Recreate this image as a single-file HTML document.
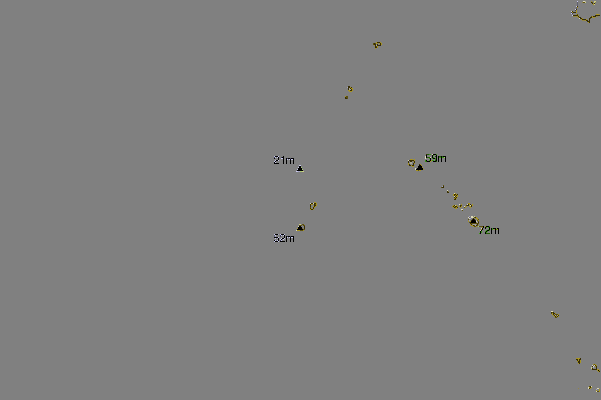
<!DOCTYPE html>
<html><head><meta charset="utf-8">
<style>
html,body{margin:0;padding:0;background:#808080;width:601px;height:400px;overflow:hidden}
svg{position:absolute;left:0;top:0;display:block}
</style></head>
<body>
<svg width="601" height="400" viewBox="0 0 601 400" shape-rendering="crispEdges">
<rect x="274" y="156" width="1" height="1" fill="#c8c8ee"/>
<rect x="275" y="156" width="3" height="1" fill="#000000"/>
<rect x="278" y="156" width="1" height="1" fill="#c8c8ee"/>
<rect x="283" y="156" width="1" height="1" fill="#000000"/>
<rect x="274" y="157" width="1" height="1" fill="#3c3c58"/>
<rect x="275" y="157" width="1" height="1" fill="#c8c8ee"/>
<rect x="277" y="157" width="1" height="1" fill="#c8c8ee"/>
<rect x="278" y="157" width="1" height="1" fill="#000000"/>
<rect x="281" y="157" width="1" height="1" fill="#3c3c58"/>
<rect x="282" y="157" width="2" height="1" fill="#000000"/>
<rect x="274" y="158" width="1" height="1" fill="#000000"/>
<rect x="278" y="158" width="1" height="1" fill="#000000"/>
<rect x="281" y="158" width="2" height="1" fill="#c8c8ee"/>
<rect x="283" y="158" width="1" height="1" fill="#000000"/>
<rect x="286" y="158" width="1" height="1" fill="#000000"/>
<rect x="287" y="158" width="1" height="1" fill="#3c3c58"/>
<rect x="288" y="158" width="2" height="1" fill="#000000"/>
<rect x="290" y="158" width="1" height="1" fill="#3c3c58"/>
<rect x="291" y="158" width="3" height="1" fill="#000000"/>
<rect x="278" y="159" width="1" height="1" fill="#000000"/>
<rect x="283" y="159" width="1" height="1" fill="#000000"/>
<rect x="286" y="159" width="1" height="1" fill="#000000"/>
<rect x="287" y="159" width="1" height="1" fill="#c8c8ee"/>
<rect x="289" y="159" width="1" height="1" fill="#c8c8ee"/>
<rect x="290" y="159" width="1" height="1" fill="#000000"/>
<rect x="291" y="159" width="2" height="1" fill="#c8c8ee"/>
<rect x="293" y="159" width="1" height="1" fill="#000000"/>
<rect x="275" y="160" width="1" height="1" fill="#c8c8ee"/>
<rect x="276" y="160" width="2" height="1" fill="#000000"/>
<rect x="278" y="160" width="1" height="1" fill="#c8c8ee"/>
<rect x="283" y="160" width="1" height="1" fill="#000000"/>
<rect x="286" y="160" width="1" height="1" fill="#000000"/>
<rect x="290" y="160" width="1" height="1" fill="#000000"/>
<rect x="293" y="160" width="1" height="1" fill="#000000"/>
<rect x="274" y="161" width="1" height="1" fill="#c8c8ee"/>
<rect x="275" y="161" width="1" height="1" fill="#000000"/>
<rect x="283" y="161" width="1" height="1" fill="#000000"/>
<rect x="286" y="161" width="1" height="1" fill="#000000"/>
<rect x="290" y="161" width="1" height="1" fill="#000000"/>
<rect x="293" y="161" width="1" height="1" fill="#000000"/>
<rect x="274" y="162" width="1" height="1" fill="#000000"/>
<rect x="275" y="162" width="1" height="1" fill="#c8c8ee"/>
<rect x="283" y="162" width="1" height="1" fill="#000000"/>
<rect x="286" y="162" width="1" height="1" fill="#000000"/>
<rect x="290" y="162" width="1" height="1" fill="#000000"/>
<rect x="293" y="162" width="1" height="1" fill="#000000"/>
<rect x="274" y="163" width="5" height="1" fill="#000000"/>
<rect x="283" y="163" width="1" height="1" fill="#000000"/>
<rect x="286" y="163" width="1" height="1" fill="#000000"/>
<rect x="290" y="163" width="1" height="1" fill="#000000"/>
<rect x="293" y="163" width="1" height="1" fill="#000000"/>
<rect x="274" y="234" width="1" height="1" fill="#c8c8ee"/>
<rect x="275" y="234" width="3" height="1" fill="#000000"/>
<rect x="278" y="234" width="1" height="1" fill="#a4a4c0"/>
<rect x="280" y="234" width="1" height="1" fill="#c8c8ee"/>
<rect x="281" y="234" width="3" height="1" fill="#000000"/>
<rect x="284" y="234" width="1" height="1" fill="#c8c8ee"/>
<rect x="274" y="235" width="1" height="1" fill="#626270"/>
<rect x="275" y="235" width="1" height="1" fill="#c8c8ee"/>
<rect x="280" y="235" width="1" height="1" fill="#3c3c58"/>
<rect x="281" y="235" width="1" height="1" fill="#c8c8ee"/>
<rect x="283" y="235" width="1" height="1" fill="#c8c8ee"/>
<rect x="284" y="235" width="1" height="1" fill="#000000"/>
<rect x="274" y="236" width="1" height="1" fill="#626270"/>
<rect x="275" y="236" width="1" height="1" fill="#a4a4c0"/>
<rect x="280" y="236" width="1" height="1" fill="#3c3c58"/>
<rect x="284" y="236" width="1" height="1" fill="#000000"/>
<rect x="286" y="236" width="1" height="1" fill="#000000"/>
<rect x="287" y="236" width="1" height="1" fill="#3c3c58"/>
<rect x="288" y="236" width="2" height="1" fill="#000000"/>
<rect x="290" y="236" width="1" height="1" fill="#3c3c58"/>
<rect x="291" y="236" width="3" height="1" fill="#000000"/>
<rect x="274" y="237" width="4" height="1" fill="#000000"/>
<rect x="278" y="237" width="1" height="1" fill="#c8c8ee"/>
<rect x="284" y="237" width="1" height="1" fill="#000000"/>
<rect x="286" y="237" width="1" height="1" fill="#000000"/>
<rect x="287" y="237" width="1" height="1" fill="#c8c8ee"/>
<rect x="289" y="237" width="1" height="1" fill="#c8c8ee"/>
<rect x="290" y="237" width="1" height="1" fill="#000000"/>
<rect x="291" y="237" width="2" height="1" fill="#c8c8ee"/>
<rect x="293" y="237" width="1" height="1" fill="#000000"/>
<rect x="275" y="238" width="1" height="1" fill="#c8c8ee"/>
<rect x="277" y="238" width="1" height="1" fill="#a4a4c0"/>
<rect x="278" y="238" width="1" height="1" fill="#000000"/>
<rect x="281" y="238" width="1" height="1" fill="#c8c8ee"/>
<rect x="282" y="238" width="2" height="1" fill="#000000"/>
<rect x="284" y="238" width="1" height="1" fill="#c8c8ee"/>
<rect x="286" y="238" width="1" height="1" fill="#000000"/>
<rect x="290" y="238" width="1" height="1" fill="#000000"/>
<rect x="293" y="238" width="1" height="1" fill="#000000"/>
<rect x="278" y="239" width="1" height="1" fill="#000000"/>
<rect x="280" y="239" width="1" height="1" fill="#c8c8ee"/>
<rect x="281" y="239" width="1" height="1" fill="#000000"/>
<rect x="283" y="239" width="1" height="1" fill="#c8c8ee"/>
<rect x="286" y="239" width="1" height="1" fill="#000000"/>
<rect x="290" y="239" width="1" height="1" fill="#000000"/>
<rect x="293" y="239" width="1" height="1" fill="#000000"/>
<rect x="274" y="240" width="1" height="1" fill="#000000"/>
<rect x="275" y="240" width="1" height="1" fill="#c8c8ee"/>
<rect x="277" y="240" width="1" height="1" fill="#c8c8ee"/>
<rect x="278" y="240" width="1" height="1" fill="#000000"/>
<rect x="280" y="240" width="1" height="1" fill="#3c3c58"/>
<rect x="281" y="240" width="1" height="1" fill="#c8c8ee"/>
<rect x="286" y="240" width="1" height="1" fill="#000000"/>
<rect x="290" y="240" width="1" height="1" fill="#000000"/>
<rect x="293" y="240" width="1" height="1" fill="#000000"/>
<rect x="274" y="241" width="1" height="1" fill="#c8c8ee"/>
<rect x="275" y="241" width="3" height="1" fill="#000000"/>
<rect x="278" y="241" width="1" height="1" fill="#c8c8ee"/>
<rect x="280" y="241" width="5" height="1" fill="#000000"/>
<rect x="286" y="241" width="1" height="1" fill="#000000"/>
<rect x="290" y="241" width="1" height="1" fill="#000000"/>
<rect x="293" y="241" width="1" height="1" fill="#000000"/>
<rect x="426" y="154" width="1" height="1" fill="#382e04"/>
<rect x="427" y="154" width="2" height="1" fill="#245c08"/>
<rect x="429" y="154" width="2" height="1" fill="#3c9418"/>
<rect x="432" y="154" width="1" height="1" fill="#dcd8b8"/>
<rect x="433" y="154" width="3" height="1" fill="#000000"/>
<rect x="436" y="154" width="1" height="1" fill="#3c9418"/>
<rect x="426" y="155" width="1" height="1" fill="#000000"/>
<rect x="432" y="155" width="1" height="1" fill="#000000"/>
<rect x="433" y="155" width="1" height="1" fill="#3c9418"/>
<rect x="436" y="155" width="1" height="1" fill="#000000"/>
<rect x="425" y="156" width="1" height="1" fill="#dcd8b8"/>
<rect x="426" y="156" width="1" height="1" fill="#000000"/>
<rect x="432" y="156" width="1" height="1" fill="#000000"/>
<rect x="435" y="156" width="1" height="1" fill="#245c08"/>
<rect x="436" y="156" width="1" height="1" fill="#000000"/>
<rect x="438" y="156" width="1" height="1" fill="#000000"/>
<rect x="439" y="156" width="2" height="1" fill="#245c08"/>
<rect x="441" y="156" width="1" height="1" fill="#000000"/>
<rect x="442" y="156" width="1" height="1" fill="#245c08"/>
<rect x="443" y="156" width="3" height="1" fill="#000000"/>
<rect x="425" y="157" width="1" height="1" fill="#dcd8b8"/>
<rect x="426" y="157" width="1" height="1" fill="#000000"/>
<rect x="427" y="157" width="3" height="1" fill="#245c08"/>
<rect x="430" y="157" width="1" height="1" fill="#dcd8b8"/>
<rect x="432" y="157" width="1" height="1" fill="#000000"/>
<rect x="433" y="157" width="1" height="1" fill="#3c9418"/>
<rect x="436" y="157" width="1" height="1" fill="#000000"/>
<rect x="438" y="157" width="1" height="1" fill="#000000"/>
<rect x="439" y="157" width="2" height="1" fill="#3c9418"/>
<rect x="441" y="157" width="1" height="1" fill="#000000"/>
<rect x="442" y="157" width="2" height="1" fill="#3c9418"/>
<rect x="444" y="157" width="1" height="1" fill="#a8cc70"/>
<rect x="445" y="157" width="1" height="1" fill="#000000"/>
<rect x="425" y="158" width="1" height="1" fill="#dcd8b8"/>
<rect x="429" y="158" width="1" height="1" fill="#3c9418"/>
<rect x="430" y="158" width="1" height="1" fill="#000000"/>
<rect x="432" y="158" width="1" height="1" fill="#3c9418"/>
<rect x="433" y="158" width="2" height="1" fill="#000000"/>
<rect x="435" y="158" width="1" height="1" fill="#3c9418"/>
<rect x="436" y="158" width="1" height="1" fill="#000000"/>
<rect x="438" y="158" width="1" height="1" fill="#000000"/>
<rect x="441" y="158" width="1" height="1" fill="#000000"/>
<rect x="445" y="158" width="1" height="1" fill="#000000"/>
<rect x="430" y="159" width="1" height="1" fill="#000000"/>
<rect x="435" y="159" width="1" height="1" fill="#3c9418"/>
<rect x="436" y="159" width="1" height="1" fill="#000000"/>
<rect x="438" y="159" width="1" height="1" fill="#000000"/>
<rect x="441" y="159" width="1" height="1" fill="#000000"/>
<rect x="445" y="159" width="1" height="1" fill="#000000"/>
<rect x="425" y="160" width="1" height="1" fill="#3c9418"/>
<rect x="426" y="160" width="1" height="1" fill="#000000"/>
<rect x="429" y="160" width="1" height="1" fill="#3c9418"/>
<rect x="430" y="160" width="1" height="1" fill="#000000"/>
<rect x="431" y="160" width="1" height="1" fill="#a89420"/>
<rect x="432" y="160" width="2" height="1" fill="#3c9418"/>
<rect x="435" y="160" width="1" height="1" fill="#245c08"/>
<rect x="436" y="160" width="1" height="1" fill="#000000"/>
<rect x="438" y="160" width="1" height="1" fill="#000000"/>
<rect x="441" y="160" width="1" height="1" fill="#000000"/>
<rect x="445" y="160" width="1" height="1" fill="#000000"/>
<rect x="425" y="161" width="1" height="1" fill="#3c9418"/>
<rect x="426" y="161" width="1" height="1" fill="#245c08"/>
<rect x="427" y="161" width="3" height="1" fill="#000000"/>
<rect x="430" y="161" width="1" height="1" fill="#a89420"/>
<rect x="433" y="161" width="3" height="1" fill="#000000"/>
<rect x="436" y="161" width="1" height="1" fill="#245c08"/>
<rect x="438" y="161" width="1" height="1" fill="#000000"/>
<rect x="441" y="161" width="1" height="1" fill="#000000"/>
<rect x="445" y="161" width="1" height="1" fill="#000000"/>
<rect x="478" y="226" width="1" height="1" fill="#a8cc70"/>
<rect x="479" y="226" width="4" height="1" fill="#5c5010"/>
<rect x="483" y="226" width="1" height="1" fill="#000000"/>
<rect x="485" y="226" width="1" height="1" fill="#a89420"/>
<rect x="486" y="226" width="3" height="1" fill="#000000"/>
<rect x="489" y="226" width="1" height="1" fill="#3c9418"/>
<rect x="482" y="227" width="1" height="1" fill="#a89420"/>
<rect x="483" y="227" width="1" height="1" fill="#000000"/>
<rect x="485" y="227" width="1" height="1" fill="#000000"/>
<rect x="486" y="227" width="1" height="1" fill="#3c9418"/>
<rect x="488" y="227" width="1" height="1" fill="#3c9418"/>
<rect x="489" y="227" width="1" height="1" fill="#000000"/>
<rect x="481" y="228" width="1" height="1" fill="#dcd8b8"/>
<rect x="482" y="228" width="1" height="1" fill="#000000"/>
<rect x="485" y="228" width="1" height="1" fill="#000000"/>
<rect x="489" y="228" width="1" height="1" fill="#000000"/>
<rect x="491" y="228" width="1" height="1" fill="#000000"/>
<rect x="492" y="228" width="1" height="1" fill="#3c9418"/>
<rect x="493" y="228" width="3" height="1" fill="#000000"/>
<rect x="496" y="228" width="1" height="1" fill="#928648"/>
<rect x="497" y="228" width="2" height="1" fill="#000000"/>
<rect x="481" y="229" width="1" height="1" fill="#a89420"/>
<rect x="482" y="229" width="1" height="1" fill="#000000"/>
<rect x="488" y="229" width="1" height="1" fill="#3c9418"/>
<rect x="489" y="229" width="1" height="1" fill="#000000"/>
<rect x="491" y="229" width="1" height="1" fill="#000000"/>
<rect x="492" y="229" width="1" height="1" fill="#3c9418"/>
<rect x="494" y="229" width="1" height="1" fill="#a89420"/>
<rect x="495" y="229" width="1" height="1" fill="#000000"/>
<rect x="496" y="229" width="1" height="1" fill="#3c9418"/>
<rect x="497" y="229" width="1" height="1" fill="#a89420"/>
<rect x="498" y="229" width="1" height="1" fill="#000000"/>
<rect x="480" y="230" width="1" height="1" fill="#dcd8b8"/>
<rect x="481" y="230" width="1" height="1" fill="#000000"/>
<rect x="486" y="230" width="1" height="1" fill="#3c9418"/>
<rect x="487" y="230" width="2" height="1" fill="#000000"/>
<rect x="489" y="230" width="1" height="1" fill="#3c9418"/>
<rect x="491" y="230" width="1" height="1" fill="#000000"/>
<rect x="495" y="230" width="1" height="1" fill="#000000"/>
<rect x="498" y="230" width="1" height="1" fill="#000000"/>
<rect x="480" y="231" width="1" height="1" fill="#000000"/>
<rect x="481" y="231" width="1" height="1" fill="#3c9418"/>
<rect x="485" y="231" width="1" height="1" fill="#3c9418"/>
<rect x="486" y="231" width="1" height="1" fill="#000000"/>
<rect x="487" y="231" width="1" height="1" fill="#3c9418"/>
<rect x="491" y="231" width="1" height="1" fill="#000000"/>
<rect x="495" y="231" width="1" height="1" fill="#000000"/>
<rect x="498" y="231" width="1" height="1" fill="#000000"/>
<rect x="480" y="232" width="1" height="1" fill="#000000"/>
<rect x="481" y="232" width="1" height="1" fill="#3c9418"/>
<rect x="485" y="232" width="1" height="1" fill="#000000"/>
<rect x="486" y="232" width="1" height="1" fill="#3c9418"/>
<rect x="491" y="232" width="1" height="1" fill="#000000"/>
<rect x="495" y="232" width="1" height="1" fill="#000000"/>
<rect x="498" y="232" width="1" height="1" fill="#000000"/>
<rect x="479" y="233" width="1" height="1" fill="#3c9418"/>
<rect x="480" y="233" width="1" height="1" fill="#000000"/>
<rect x="485" y="233" width="1" height="1" fill="#000000"/>
<rect x="486" y="233" width="4" height="1" fill="#245c08"/>
<rect x="491" y="233" width="1" height="1" fill="#000000"/>
<rect x="495" y="233" width="1" height="1" fill="#000000"/>
<rect x="498" y="233" width="1" height="1" fill="#000000"/>
<rect x="299" y="165" width="2" height="1" fill="#c8c8ee"/>
<rect x="299" y="166" width="2" height="1" fill="#000000"/>
<rect x="298" y="167" width="1" height="1" fill="#c8c8ee"/>
<rect x="299" y="167" width="2" height="1" fill="#000000"/>
<rect x="301" y="167" width="1" height="1" fill="#a8cc70"/>
<rect x="298" y="168" width="4" height="1" fill="#000000"/>
<rect x="297" y="169" width="1" height="1" fill="#c8c8ee"/>
<rect x="298" y="169" width="4" height="1" fill="#000000"/>
<rect x="302" y="169" width="1" height="1" fill="#a8cc70"/>
<rect x="297" y="170" width="6" height="1" fill="#000000"/>
<rect x="296" y="171" width="2" height="1" fill="#c8c8ee"/>
<rect x="298" y="171" width="2" height="1" fill="#a4a4c0"/>
<rect x="300" y="171" width="2" height="1" fill="#a8cc70"/>
<rect x="302" y="171" width="2" height="1" fill="#cccc84"/>
<rect x="419" y="164" width="1" height="1" fill="#382e04"/>
<rect x="420" y="164" width="1" height="1" fill="#a89420"/>
<rect x="419" y="165" width="2" height="1" fill="#000000"/>
<rect x="421" y="165" width="1" height="1" fill="#a89420"/>
<rect x="418" y="166" width="4" height="1" fill="#000000"/>
<rect x="418" y="167" width="4" height="1" fill="#000000"/>
<rect x="422" y="167" width="1" height="1" fill="#a89420"/>
<rect x="415" y="168" width="1" height="1" fill="#dcd8b8"/>
<rect x="417" y="168" width="6" height="1" fill="#000000"/>
<rect x="415" y="169" width="1" height="1" fill="#dcd8b8"/>
<rect x="416" y="169" width="7" height="1" fill="#000000"/>
<rect x="423" y="169" width="1" height="1" fill="#a89420"/>
<rect x="416" y="170" width="2" height="1" fill="#a89420"/>
<rect x="418" y="170" width="1" height="1" fill="#5c5010"/>
<rect x="419" y="170" width="2" height="1" fill="#a89420"/>
<rect x="299" y="224" width="2" height="1" fill="#cccc84"/>
<rect x="302" y="224" width="2" height="1" fill="#5c5010"/>
<rect x="299" y="225" width="3" height="1" fill="#5c5010"/>
<rect x="303" y="225" width="2" height="1" fill="#5c5010"/>
<rect x="298" y="226" width="1" height="1" fill="#dcd8b8"/>
<rect x="299" y="226" width="2" height="1" fill="#000000"/>
<rect x="304" y="226" width="1" height="1" fill="#382e04"/>
<rect x="298" y="227" width="4" height="1" fill="#000000"/>
<rect x="304" y="227" width="1" height="1" fill="#382e04"/>
<rect x="297" y="228" width="1" height="1" fill="#a89420"/>
<rect x="298" y="228" width="4" height="1" fill="#000000"/>
<rect x="302" y="228" width="1" height="1" fill="#7a6a30"/>
<rect x="304" y="228" width="1" height="1" fill="#382e04"/>
<rect x="297" y="229" width="6" height="1" fill="#000000"/>
<rect x="303" y="229" width="2" height="1" fill="#5c5010"/>
<rect x="296" y="230" width="1" height="1" fill="#dcd8b8"/>
<rect x="297" y="230" width="3" height="1" fill="#a89420"/>
<rect x="300" y="230" width="3" height="1" fill="#5c5010"/>
<rect x="303" y="230" width="1" height="1" fill="#a89420"/>
<rect x="469" y="216" width="1" height="1" fill="#a4a4c0"/>
<rect x="471" y="216" width="2" height="1" fill="#dcd8b8"/>
<rect x="474" y="216" width="1" height="1" fill="#cccc84"/>
<rect x="468" y="217" width="1" height="1" fill="#dcd8b8"/>
<rect x="469" y="217" width="1" height="1" fill="#626270"/>
<rect x="471" y="217" width="2" height="1" fill="#dcd8b8"/>
<rect x="473" y="217" width="1" height="1" fill="#cccc84"/>
<rect x="474" y="217" width="1" height="1" fill="#5c5010"/>
<rect x="475" y="217" width="1" height="1" fill="#382e04"/>
<rect x="476" y="217" width="1" height="1" fill="#a89420"/>
<rect x="469" y="218" width="1" height="1" fill="#dcd8b8"/>
<rect x="470" y="218" width="1" height="1" fill="#a4a4c0"/>
<rect x="473" y="218" width="1" height="1" fill="#382e04"/>
<rect x="475" y="218" width="1" height="1" fill="#928648"/>
<rect x="476" y="218" width="2" height="1" fill="#a89420"/>
<rect x="468" y="219" width="1" height="1" fill="#5c5010"/>
<rect x="472" y="219" width="1" height="1" fill="#382e04"/>
<rect x="473" y="219" width="1" height="1" fill="#000000"/>
<rect x="474" y="219" width="1" height="1" fill="#382e04"/>
<rect x="477" y="219" width="1" height="1" fill="#a89420"/>
<rect x="478" y="219" width="1" height="1" fill="#5c5010"/>
<rect x="468" y="220" width="1" height="1" fill="#928648"/>
<rect x="469" y="220" width="1" height="1" fill="#a4a4c0"/>
<rect x="471" y="220" width="1" height="1" fill="#382e04"/>
<rect x="472" y="220" width="3" height="1" fill="#000000"/>
<rect x="475" y="220" width="1" height="1" fill="#382e04"/>
<rect x="476" y="220" width="1" height="1" fill="#a4a4c0"/>
<rect x="477" y="220" width="1" height="1" fill="#5c5010"/>
<rect x="478" y="220" width="1" height="1" fill="#a89420"/>
<rect x="468" y="221" width="1" height="1" fill="#a89420"/>
<rect x="470" y="221" width="1" height="1" fill="#a89420"/>
<rect x="471" y="221" width="5" height="1" fill="#000000"/>
<rect x="476" y="221" width="1" height="1" fill="#dcd8b8"/>
<rect x="478" y="221" width="1" height="1" fill="#5c5010"/>
<rect x="469" y="222" width="1" height="1" fill="#5c5010"/>
<rect x="470" y="222" width="1" height="1" fill="#382e04"/>
<rect x="471" y="222" width="5" height="1" fill="#000000"/>
<rect x="476" y="222" width="1" height="1" fill="#928648"/>
<rect x="477" y="222" width="1" height="1" fill="#a4a4c0"/>
<rect x="478" y="222" width="1" height="1" fill="#382e04"/>
<rect x="470" y="223" width="1" height="1" fill="#382e04"/>
<rect x="471" y="223" width="8" height="1" fill="#5c5010"/>
<rect x="470" y="224" width="1" height="1" fill="#a89420"/>
<rect x="471" y="224" width="1" height="1" fill="#382e04"/>
<rect x="473" y="224" width="3" height="1" fill="#a8a698"/>
<rect x="477" y="224" width="1" height="1" fill="#382e04"/>
<rect x="478" y="224" width="1" height="1" fill="#928648"/>
<rect x="471" y="225" width="2" height="1" fill="#a89420"/>
<rect x="473" y="225" width="1" height="1" fill="#382e04"/>
<rect x="474" y="225" width="1" height="1" fill="#5c5010"/>
<rect x="475" y="225" width="1" height="1" fill="#a4a4c0"/>
<rect x="476" y="225" width="1" height="1" fill="#382e04"/>
<rect x="477" y="225" width="1" height="1" fill="#5c5010"/>
<rect x="473" y="226" width="1" height="1" fill="#a89420"/>
<rect x="474" y="226" width="2" height="1" fill="#5c5010"/>
<rect x="476" y="226" width="1" height="1" fill="#a89420"/>
<rect x="410" y="159" width="3" height="1" fill="#a89420"/>
<rect x="414" y="159" width="1" height="1" fill="#a89420"/>
<rect x="408" y="160" width="1" height="1" fill="#dcd8b8"/>
<rect x="409" y="160" width="5" height="1" fill="#382e04"/>
<rect x="414" y="160" width="1" height="1" fill="#a89420"/>
<rect x="408" y="161" width="1" height="1" fill="#382e04"/>
<rect x="410" y="161" width="2" height="1" fill="#382e04"/>
<rect x="413" y="161" width="1" height="1" fill="#928648"/>
<rect x="414" y="161" width="1" height="1" fill="#382e04"/>
<rect x="408" y="162" width="1" height="1" fill="#382e04"/>
<rect x="410" y="162" width="2" height="1" fill="#a8a698"/>
<rect x="414" y="162" width="1" height="1" fill="#382e04"/>
<rect x="408" y="163" width="1" height="1" fill="#a89420"/>
<rect x="410" y="163" width="2" height="1" fill="#a8a698"/>
<rect x="413" y="163" width="1" height="1" fill="#382e04"/>
<rect x="414" y="163" width="1" height="1" fill="#a89420"/>
<rect x="408" y="164" width="1" height="1" fill="#a89420"/>
<rect x="409" y="164" width="1" height="1" fill="#382e04"/>
<rect x="413" y="164" width="1" height="1" fill="#382e04"/>
<rect x="409" y="165" width="2" height="1" fill="#382e04"/>
<rect x="411" y="165" width="1" height="1" fill="#a89420"/>
<rect x="412" y="165" width="2" height="1" fill="#382e04"/>
<rect x="412" y="166" width="2" height="1" fill="#a89420"/>
<rect x="314" y="202" width="2" height="1" fill="#a89420"/>
<rect x="310" y="203" width="1" height="1" fill="#dcd8b8"/>
<rect x="311" y="203" width="2" height="1" fill="#382e04"/>
<rect x="313" y="203" width="1" height="1" fill="#dcd8b8"/>
<rect x="314" y="203" width="2" height="1" fill="#382e04"/>
<rect x="316" y="203" width="1" height="1" fill="#a89420"/>
<rect x="310" y="204" width="1" height="1" fill="#382e04"/>
<rect x="311" y="204" width="2" height="1" fill="#a89420"/>
<rect x="314" y="204" width="1" height="1" fill="#382e04"/>
<rect x="315" y="204" width="1" height="1" fill="#5c5010"/>
<rect x="316" y="204" width="1" height="1" fill="#a89420"/>
<rect x="310" y="205" width="1" height="1" fill="#382e04"/>
<rect x="314" y="205" width="2" height="1" fill="#382e04"/>
<rect x="316" y="205" width="1" height="1" fill="#a89420"/>
<rect x="310" y="206" width="1" height="1" fill="#382e04"/>
<rect x="313" y="206" width="1" height="1" fill="#a89420"/>
<rect x="314" y="206" width="1" height="1" fill="#382e04"/>
<rect x="315" y="206" width="1" height="1" fill="#a89420"/>
<rect x="310" y="207" width="1" height="1" fill="#5c5010"/>
<rect x="313" y="207" width="1" height="1" fill="#382e04"/>
<rect x="314" y="207" width="1" height="1" fill="#a89420"/>
<rect x="310" y="208" width="1" height="1" fill="#382e04"/>
<rect x="311" y="208" width="1" height="1" fill="#a89420"/>
<rect x="313" y="208" width="1" height="1" fill="#382e04"/>
<rect x="310" y="209" width="1" height="1" fill="#a89420"/>
<rect x="311" y="209" width="2" height="1" fill="#382e04"/>
<rect x="313" y="209" width="1" height="1" fill="#a89420"/>
<rect x="376" y="42" width="1" height="1" fill="#a89420"/>
<rect x="377" y="42" width="3" height="1" fill="#382e04"/>
<rect x="380" y="42" width="1" height="1" fill="#a89420"/>
<rect x="373" y="43" width="1" height="1" fill="#5c5010"/>
<rect x="374" y="43" width="1" height="1" fill="#382e04"/>
<rect x="375" y="43" width="1" height="1" fill="#5c5010"/>
<rect x="376" y="43" width="1" height="1" fill="#a89420"/>
<rect x="377" y="43" width="1" height="1" fill="#928648"/>
<rect x="379" y="43" width="1" height="1" fill="#a89420"/>
<rect x="380" y="43" width="1" height="1" fill="#382e04"/>
<rect x="381" y="43" width="1" height="1" fill="#a89420"/>
<rect x="373" y="44" width="1" height="1" fill="#5c5010"/>
<rect x="374" y="44" width="2" height="1" fill="#382e04"/>
<rect x="377" y="44" width="1" height="1" fill="#382e04"/>
<rect x="380" y="44" width="1" height="1" fill="#382e04"/>
<rect x="381" y="44" width="1" height="1" fill="#a89420"/>
<rect x="374" y="45" width="1" height="1" fill="#a89420"/>
<rect x="375" y="45" width="1" height="1" fill="#382e04"/>
<rect x="376" y="45" width="1" height="1" fill="#a4a4c0"/>
<rect x="377" y="45" width="4" height="1" fill="#382e04"/>
<rect x="375" y="46" width="1" height="1" fill="#382e04"/>
<rect x="376" y="46" width="1" height="1" fill="#5c5010"/>
<rect x="377" y="46" width="1" height="1" fill="#a89420"/>
<rect x="375" y="47" width="2" height="1" fill="#382e04"/>
<rect x="377" y="47" width="1" height="1" fill="#a89420"/>
<rect x="375" y="48" width="1" height="1" fill="#a89420"/>
<rect x="348" y="86" width="2" height="1" fill="#382e04"/>
<rect x="347" y="87" width="1" height="1" fill="#a4a4c0"/>
<rect x="348" y="87" width="2" height="1" fill="#382e04"/>
<rect x="350" y="87" width="1" height="1" fill="#a89420"/>
<rect x="351" y="87" width="1" height="1" fill="#382e04"/>
<rect x="348" y="88" width="1" height="1" fill="#382e04"/>
<rect x="349" y="88" width="1" height="1" fill="#a8a698"/>
<rect x="350" y="88" width="1" height="1" fill="#382e04"/>
<rect x="351" y="88" width="2" height="1" fill="#a89420"/>
<rect x="348" y="89" width="1" height="1" fill="#382e04"/>
<rect x="349" y="89" width="2" height="1" fill="#a8a698"/>
<rect x="351" y="89" width="1" height="1" fill="#382e04"/>
<rect x="352" y="89" width="1" height="1" fill="#a89420"/>
<rect x="348" y="90" width="2" height="1" fill="#a89420"/>
<rect x="350" y="90" width="2" height="1" fill="#382e04"/>
<rect x="352" y="90" width="1" height="1" fill="#a89420"/>
<rect x="349" y="91" width="3" height="1" fill="#a89420"/>
<rect x="345" y="96" width="1" height="1" fill="#a89420"/>
<rect x="346" y="96" width="2" height="1" fill="#5c5010"/>
<rect x="345" y="97" width="1" height="1" fill="#382e04"/>
<rect x="346" y="97" width="2" height="1" fill="#5c5010"/>
<rect x="345" y="98" width="2" height="1" fill="#382e04"/>
<rect x="347" y="98" width="1" height="1" fill="#5c5010"/>
<rect x="443" y="185" width="1" height="1" fill="#5c5010"/>
<rect x="442" y="186" width="1" height="1" fill="#a4a4c0"/>
<rect x="443" y="186" width="1" height="1" fill="#382e04"/>
<rect x="441" y="187" width="1" height="1" fill="#5c5010"/>
<rect x="442" y="187" width="2" height="1" fill="#382e04"/>
<rect x="447" y="190" width="1" height="1" fill="#dcd8b8"/>
<rect x="447" y="191" width="1" height="1" fill="#382e04"/>
<rect x="448" y="191" width="1" height="1" fill="#928648"/>
<rect x="447" y="192" width="2" height="1" fill="#382e04"/>
<rect x="454" y="193" width="1" height="1" fill="#dcd8b8"/>
<rect x="455" y="193" width="1" height="1" fill="#a89420"/>
<rect x="453" y="194" width="1" height="1" fill="#a89420"/>
<rect x="454" y="194" width="2" height="1" fill="#382e04"/>
<rect x="456" y="194" width="1" height="1" fill="#a89420"/>
<rect x="457" y="194" width="1" height="1" fill="#382e04"/>
<rect x="453" y="195" width="1" height="1" fill="#a89420"/>
<rect x="454" y="195" width="1" height="1" fill="#382e04"/>
<rect x="455" y="195" width="1" height="1" fill="#a89420"/>
<rect x="456" y="195" width="1" height="1" fill="#382e04"/>
<rect x="457" y="195" width="1" height="1" fill="#a89420"/>
<rect x="454" y="196" width="1" height="1" fill="#dcd8b8"/>
<rect x="455" y="196" width="1" height="1" fill="#382e04"/>
<rect x="456" y="196" width="2" height="1" fill="#a89420"/>
<rect x="454" y="197" width="1" height="1" fill="#382e04"/>
<rect x="455" y="197" width="1" height="1" fill="#a89420"/>
<rect x="456" y="197" width="1" height="1" fill="#382e04"/>
<rect x="454" y="198" width="1" height="1" fill="#a89420"/>
<rect x="455" y="198" width="1" height="1" fill="#382e04"/>
<rect x="456" y="198" width="1" height="1" fill="#a89420"/>
<rect x="454" y="199" width="2" height="1" fill="#382e04"/>
<rect x="453" y="205" width="1" height="1" fill="#a89420"/>
<rect x="454" y="205" width="1" height="1" fill="#382e04"/>
<rect x="455" y="205" width="1" height="1" fill="#cccc84"/>
<rect x="456" y="205" width="1" height="1" fill="#a89420"/>
<rect x="452" y="206" width="1" height="1" fill="#a89420"/>
<rect x="453" y="206" width="1" height="1" fill="#382e04"/>
<rect x="454" y="206" width="1" height="1" fill="#a89420"/>
<rect x="455" y="206" width="2" height="1" fill="#382e04"/>
<rect x="457" y="206" width="1" height="1" fill="#a89420"/>
<rect x="453" y="207" width="1" height="1" fill="#a89420"/>
<rect x="454" y="207" width="1" height="1" fill="#382e04"/>
<rect x="455" y="207" width="1" height="1" fill="#5c5010"/>
<rect x="456" y="207" width="1" height="1" fill="#a89420"/>
<rect x="457" y="207" width="1" height="1" fill="#382e04"/>
<rect x="455" y="208" width="2" height="1" fill="#a89420"/>
<rect x="459" y="204" width="1" height="1" fill="#dcd8b8"/>
<rect x="461" y="204" width="1" height="1" fill="#a89420"/>
<rect x="460" y="205" width="1" height="1" fill="#382e04"/>
<rect x="461" y="205" width="1" height="1" fill="#5c5010"/>
<rect x="459" y="206" width="1" height="1" fill="#a89420"/>
<rect x="460" y="206" width="1" height="1" fill="#382e04"/>
<rect x="461" y="206" width="1" height="1" fill="#a89420"/>
<rect x="460" y="207" width="1" height="1" fill="#a89420"/>
<rect x="461" y="209" width="2" height="1" fill="#dcd8b8"/>
<rect x="462" y="210" width="1" height="1" fill="#5c5010"/>
<rect x="468" y="203" width="2" height="1" fill="#a89420"/>
<rect x="467" y="204" width="1" height="1" fill="#dcd8b8"/>
<rect x="468" y="204" width="1" height="1" fill="#382e04"/>
<rect x="469" y="204" width="1" height="1" fill="#a89420"/>
<rect x="470" y="204" width="1" height="1" fill="#382e04"/>
<rect x="472" y="204" width="1" height="1" fill="#a89420"/>
<rect x="466" y="205" width="1" height="1" fill="#5c5010"/>
<rect x="467" y="205" width="2" height="1" fill="#382e04"/>
<rect x="470" y="205" width="1" height="1" fill="#dcd8b8"/>
<rect x="471" y="205" width="1" height="1" fill="#382e04"/>
<rect x="472" y="205" width="1" height="1" fill="#a89420"/>
<rect x="464" y="206" width="1" height="1" fill="#dcd8b8"/>
<rect x="466" y="206" width="1" height="1" fill="#a89420"/>
<rect x="469" y="206" width="2" height="1" fill="#a89420"/>
<rect x="471" y="206" width="1" height="1" fill="#382e04"/>
<rect x="464" y="207" width="1" height="1" fill="#5c5010"/>
<rect x="465" y="207" width="1" height="1" fill="#a89420"/>
<rect x="470" y="207" width="1" height="1" fill="#a89420"/>
<rect x="551" y="311" width="2" height="1" fill="#dcd8b8"/>
<rect x="551" y="312" width="1" height="1" fill="#382e04"/>
<rect x="552" y="312" width="1" height="1" fill="#5c5010"/>
<rect x="553" y="312" width="1" height="1" fill="#382e04"/>
<rect x="551" y="313" width="1" height="1" fill="#5c5010"/>
<rect x="552" y="313" width="1" height="1" fill="#a89420"/>
<rect x="553" y="313" width="2" height="1" fill="#382e04"/>
<rect x="555" y="313" width="1" height="1" fill="#a89420"/>
<rect x="552" y="314" width="1" height="1" fill="#a89420"/>
<rect x="553" y="314" width="1" height="1" fill="#382e04"/>
<rect x="555" y="314" width="3" height="1" fill="#5c5010"/>
<rect x="558" y="314" width="1" height="1" fill="#a89420"/>
<rect x="553" y="315" width="1" height="1" fill="#a89420"/>
<rect x="554" y="315" width="1" height="1" fill="#382e04"/>
<rect x="555" y="315" width="1" height="1" fill="#a8a698"/>
<rect x="556" y="315" width="1" height="1" fill="#5c5010"/>
<rect x="557" y="315" width="1" height="1" fill="#a8a698"/>
<rect x="558" y="315" width="1" height="1" fill="#382e04"/>
<rect x="554" y="316" width="1" height="1" fill="#a89420"/>
<rect x="555" y="316" width="1" height="1" fill="#382e04"/>
<rect x="556" y="316" width="1" height="1" fill="#a89420"/>
<rect x="557" y="316" width="1" height="1" fill="#382e04"/>
<rect x="558" y="316" width="1" height="1" fill="#a89420"/>
<rect x="555" y="317" width="2" height="1" fill="#5c5010"/>
<rect x="576" y="358" width="4" height="1" fill="#a89420"/>
<rect x="580" y="358" width="1" height="1" fill="#382e04"/>
<rect x="576" y="359" width="2" height="1" fill="#382e04"/>
<rect x="578" y="359" width="1" height="1" fill="#a89420"/>
<rect x="579" y="359" width="2" height="1" fill="#382e04"/>
<rect x="577" y="360" width="1" height="1" fill="#382e04"/>
<rect x="578" y="360" width="1" height="1" fill="#a89420"/>
<rect x="579" y="360" width="1" height="1" fill="#382e04"/>
<rect x="580" y="360" width="1" height="1" fill="#a89420"/>
<rect x="577" y="361" width="1" height="1" fill="#a89420"/>
<rect x="578" y="361" width="2" height="1" fill="#382e04"/>
<rect x="580" y="361" width="1" height="1" fill="#a89420"/>
<rect x="578" y="362" width="2" height="1" fill="#382e04"/>
<rect x="580" y="362" width="1" height="1" fill="#a89420"/>
<rect x="578" y="363" width="1" height="1" fill="#a89420"/>
<rect x="579" y="363" width="1" height="1" fill="#382e04"/>
<rect x="593" y="364" width="1" height="1" fill="#a89420"/>
<rect x="594" y="364" width="1" height="1" fill="#5c5010"/>
<rect x="595" y="364" width="1" height="1" fill="#a89420"/>
<rect x="592" y="365" width="1" height="1" fill="#dcd8b8"/>
<rect x="593" y="365" width="1" height="1" fill="#626270"/>
<rect x="594" y="365" width="1" height="1" fill="#dcd8b8"/>
<rect x="595" y="365" width="1" height="1" fill="#382e04"/>
<rect x="596" y="365" width="1" height="1" fill="#a89420"/>
<rect x="592" y="366" width="1" height="1" fill="#382e04"/>
<rect x="593" y="366" width="1" height="1" fill="#dcd8b8"/>
<rect x="595" y="366" width="1" height="1" fill="#a89420"/>
<rect x="596" y="366" width="1" height="1" fill="#382e04"/>
<rect x="591" y="367" width="1" height="1" fill="#cccc84"/>
<rect x="593" y="367" width="1" height="1" fill="#a4a4c0"/>
<rect x="596" y="367" width="1" height="1" fill="#382e04"/>
<rect x="591" y="368" width="1" height="1" fill="#cccc84"/>
<rect x="592" y="368" width="1" height="1" fill="#382e04"/>
<rect x="596" y="368" width="1" height="1" fill="#382e04"/>
<rect x="592" y="369" width="5" height="1" fill="#382e04"/>
<rect x="597" y="369" width="2" height="1" fill="#a89420"/>
<rect x="597" y="370" width="1" height="1" fill="#a89420"/>
<rect x="598" y="370" width="1" height="1" fill="#000000"/>
<rect x="599" y="370" width="1" height="1" fill="#a89420"/>
<rect x="598" y="371" width="1" height="1" fill="#a89420"/>
<rect x="599" y="371" width="1" height="1" fill="#382e04"/>
<rect x="589" y="386" width="1" height="1" fill="#5c5010"/>
<rect x="590" y="386" width="1" height="1" fill="#382e04"/>
<rect x="591" y="386" width="1" height="1" fill="#dcd8b8"/>
<rect x="588" y="387" width="1" height="1" fill="#dcd8b8"/>
<rect x="589" y="387" width="1" height="1" fill="#a89420"/>
<rect x="590" y="387" width="1" height="1" fill="#382e04"/>
<rect x="591" y="387" width="1" height="1" fill="#a89420"/>
<rect x="588" y="388" width="1" height="1" fill="#dcd8b8"/>
<rect x="589" y="388" width="1" height="1" fill="#382e04"/>
<rect x="590" y="388" width="1" height="1" fill="#a89420"/>
<rect x="597" y="388" width="2" height="1" fill="#dcd8b8"/>
<rect x="596" y="389" width="1" height="1" fill="#a4a4c0"/>
<rect x="599" y="389" width="1" height="1" fill="#a89420"/>
<rect x="596" y="390" width="1" height="1" fill="#a89420"/>
<rect x="599" y="390" width="1" height="1" fill="#a89420"/>
<rect x="596" y="391" width="1" height="1" fill="#dcd8b8"/>
<rect x="597" y="391" width="2" height="1" fill="#5c5010"/>
<rect x="599" y="391" width="1" height="1" fill="#a89420"/>
<rect x="578" y="388" width="1" height="1" fill="#928648"/>
<rect x="577" y="1" width="1" height="1" fill="#c8c8ee"/>
<rect x="577" y="2" width="1" height="1" fill="#626270"/>
<rect x="577" y="3" width="1" height="1" fill="#626270"/>
<rect x="577" y="4" width="1" height="1" fill="#626270"/>
<rect x="577" y="5" width="1" height="1" fill="#626270"/>
<rect x="576" y="6" width="1" height="1" fill="#c8c8ee"/>
<rect x="577" y="6" width="1" height="1" fill="#382e04"/>
<rect x="576" y="7" width="1" height="1" fill="#626270"/>
<rect x="577" y="7" width="1" height="1" fill="#a89420"/>
<rect x="576" y="8" width="1" height="1" fill="#626270"/>
<rect x="575" y="9" width="1" height="1" fill="#c8c8ee"/>
<rect x="576" y="9" width="1" height="1" fill="#382e04"/>
<rect x="575" y="10" width="1" height="1" fill="#3c3c58"/>
<rect x="576" y="10" width="1" height="1" fill="#a89420"/>
<rect x="571" y="11" width="1" height="1" fill="#dcd8b8"/>
<rect x="572" y="11" width="1" height="1" fill="#382e04"/>
<rect x="576" y="11" width="1" height="1" fill="#a89420"/>
<rect x="571" y="12" width="1" height="1" fill="#3c3c58"/>
<rect x="572" y="12" width="1" height="1" fill="#a89420"/>
<rect x="573" y="12" width="1" height="1" fill="#382e04"/>
<rect x="574" y="12" width="1" height="1" fill="#382e04"/>
<rect x="575" y="12" width="1" height="1" fill="#382e04"/>
<rect x="576" y="12" width="1" height="1" fill="#a89420"/>
<rect x="571" y="13" width="1" height="1" fill="#c8c8ee"/>
<rect x="572" y="13" width="1" height="1" fill="#3c3c58"/>
<rect x="576" y="14" width="1" height="1" fill="#a89420"/>
<rect x="577" y="14" width="1" height="1" fill="#5c5010"/>
<rect x="572" y="15" width="1" height="1" fill="#c8c8ee"/>
<rect x="573" y="15" width="1" height="1" fill="#382e04"/>
<rect x="574" y="15" width="1" height="1" fill="#382e04"/>
<rect x="575" y="15" width="1" height="1" fill="#382e04"/>
<rect x="576" y="15" width="1" height="1" fill="#382e04"/>
<rect x="577" y="15" width="1" height="1" fill="#382e04"/>
<rect x="578" y="15" width="1" height="1" fill="#a89420"/>
<rect x="573" y="16" width="1" height="1" fill="#928648"/>
<rect x="574" y="16" width="1" height="1" fill="#928648"/>
<rect x="575" y="16" width="1" height="1" fill="#928648"/>
<rect x="576" y="16" width="1" height="1" fill="#928648"/>
<rect x="577" y="16" width="1" height="1" fill="#a89420"/>
<rect x="578" y="16" width="1" height="1" fill="#382e04"/>
<rect x="578" y="17" width="1" height="1" fill="#a89420"/>
<rect x="579" y="17" width="1" height="1" fill="#382e04"/>
<rect x="580" y="17" width="1" height="1" fill="#382e04"/>
<rect x="579" y="18" width="1" height="1" fill="#dcd8b8"/>
<rect x="580" y="18" width="1" height="1" fill="#382e04"/>
<rect x="581" y="18" width="1" height="1" fill="#382e04"/>
<rect x="582" y="18" width="1" height="1" fill="#a89420"/>
<rect x="581" y="19" width="1" height="1" fill="#a89420"/>
<rect x="582" y="19" width="1" height="1" fill="#382e04"/>
<rect x="583" y="19" width="1" height="1" fill="#382e04"/>
<rect x="584" y="19" width="1" height="1" fill="#382e04"/>
<rect x="585" y="19" width="1" height="1" fill="#382e04"/>
<rect x="586" y="19" width="1" height="1" fill="#a89420"/>
<rect x="582" y="20" width="1" height="1" fill="#928648"/>
<rect x="583" y="20" width="1" height="1" fill="#928648"/>
<rect x="584" y="20" width="1" height="1" fill="#928648"/>
<rect x="585" y="20" width="1" height="1" fill="#a89420"/>
<rect x="586" y="20" width="1" height="1" fill="#382e04"/>
<rect x="587" y="20" width="1" height="1" fill="#382e04"/>
<rect x="587" y="21" width="1" height="1" fill="#382e04"/>
<rect x="588" y="21" width="1" height="1" fill="#382e04"/>
<rect x="589" y="21" width="1" height="1" fill="#382e04"/>
<rect x="588" y="22" width="1" height="1" fill="#a89420"/>
<rect x="589" y="22" width="1" height="1" fill="#382e04"/>
<rect x="589" y="20" width="1" height="1" fill="#382e04"/>
<rect x="589" y="19" width="1" height="1" fill="#382e04"/>
<rect x="589" y="18" width="1" height="1" fill="#382e04"/>
<rect x="590" y="18" width="1" height="1" fill="#5c5010"/>
<rect x="590" y="17" width="1" height="1" fill="#382e04"/>
<rect x="591" y="17" width="1" height="1" fill="#382e04"/>
<rect x="592" y="17" width="1" height="1" fill="#928648"/>
<rect x="591" y="16" width="1" height="1" fill="#5c5010"/>
<rect x="592" y="16" width="1" height="1" fill="#a89420"/>
<rect x="593" y="16" width="1" height="1" fill="#382e04"/>
<rect x="594" y="16" width="1" height="1" fill="#382e04"/>
<rect x="595" y="16" width="1" height="1" fill="#382e04"/>
<rect x="593" y="17" width="1" height="1" fill="#a89420"/>
<rect x="594" y="17" width="1" height="1" fill="#a89420"/>
<rect x="595" y="15" width="1" height="1" fill="#382e04"/>
<rect x="596" y="15" width="1" height="1" fill="#382e04"/>
<rect x="597" y="15" width="1" height="1" fill="#382e04"/>
<rect x="598" y="15" width="1" height="1" fill="#382e04"/>
<rect x="599" y="15" width="1" height="1" fill="#382e04"/>
<rect x="596" y="14" width="1" height="1" fill="#a89420"/>
<rect x="597" y="14" width="1" height="1" fill="#a89420"/>
<rect x="598" y="14" width="1" height="1" fill="#a89420"/>
<rect x="599" y="14" width="1" height="1" fill="#928648"/>
<rect x="596" y="16" width="1" height="1" fill="#928648"/>
<rect x="597" y="16" width="1" height="1" fill="#928648"/>
<rect x="583" y="1" width="1" height="1" fill="#dcd8b8"/>
<rect x="584" y="1" width="1" height="1" fill="#dcd8b8"/>
<rect x="585" y="1" width="1" height="1" fill="#a8a698"/>
<rect x="582" y="2" width="1" height="1" fill="#928648"/>
<rect x="583" y="2" width="1" height="1" fill="#5c5010"/>
<rect x="584" y="2" width="1" height="1" fill="#5c5010"/>
<rect x="585" y="2" width="1" height="1" fill="#cccc84"/>
<rect x="591" y="1" width="1" height="1" fill="#a89420"/>
<rect x="594" y="1" width="1" height="1" fill="#cccc84"/>
<rect x="595" y="1" width="1" height="1" fill="#cccc84"/>
<rect x="591" y="2" width="1" height="1" fill="#382e04"/>
<rect x="592" y="2" width="1" height="1" fill="#5c5010"/>
<rect x="594" y="2" width="1" height="1" fill="#cccc84"/>
<rect x="595" y="2" width="1" height="1" fill="#928648"/>
<rect x="592" y="3" width="1" height="1" fill="#382e04"/>
<rect x="593" y="3" width="1" height="1" fill="#928648"/>
<rect x="594" y="3" width="1" height="1" fill="#382e04"/>
<rect x="593" y="4" width="1" height="1" fill="#a89420"/>
<rect x="594" y="4" width="1" height="1" fill="#cccc84"/>
</svg>
</body></html>
